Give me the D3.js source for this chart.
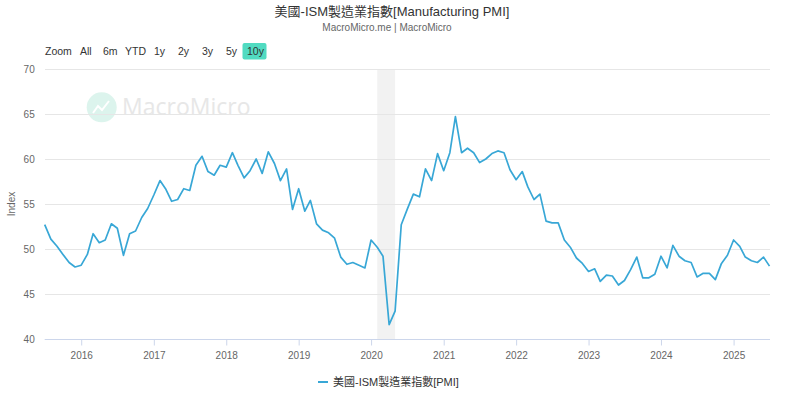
<!DOCTYPE html>
<html lang="zh-Hant">
<head>
<meta charset="UTF-8"/>
<title>美國-ISM製造業指數</title>
<script src="https://cdn.jsdelivr.net/npm/d3@7"></script>
<style>
    body { margin: 0; background: #fff; }
    svg { display: block; font-family: "Liberation Sans", "Noto Sans CJK TC", sans-serif; }
    .grid line { stroke: #e6e6e6; stroke-width: 1; shape-rendering: crispEdges; }
    .axis text { fill: #666; font-size: 10px; }
    .btn { fill: #333; font-size: 10.5px; }
</style>
</head>
<body>
<div id="chart"></div>
<script>
    // first month of the series, then one value per month
    var startMonth = "2015-07";
    var pmi = [
        52.7, 51.1, 50.3, 49.4, 48.5, 48.0,                               // 2015 Jul-Dec
        48.2, 49.4, 51.7, 50.7, 51.0, 52.8, 52.3, 49.3, 51.7, 52.0, 53.5, 54.5, // 2016
        56.0, 57.6, 56.7, 55.3, 55.5, 56.7, 56.5, 59.3, 60.3, 58.6, 58.2, 59.3, // 2017
        59.1, 60.7, 59.3, 57.9, 58.7, 60.0, 58.4, 60.8, 59.5, 57.6, 58.9, 54.4, // 2018
        56.7, 54.2, 55.4, 52.8, 52.1, 51.8, 51.2, 49.1, 48.3, 48.5, 48.2, 47.9, // 2019
        51.0, 50.2, 49.2, 41.6, 43.1, 52.7, 54.4, 56.1, 55.8, 58.9, 57.6, 60.6, // 2020
        58.7, 60.7, 64.7, 60.7, 61.2, 60.7, 59.6, 60.0, 60.6, 60.9, 60.7, 58.8, // 2021
        57.7, 58.6, 56.9, 55.5, 56.1, 53.1, 52.9, 52.9, 51.0, 50.2, 49.0, 48.4, // 2022
        47.5, 47.8, 46.4, 47.1, 47.0, 46.0, 46.5, 47.7, 49.1, 46.8, 46.8, 47.2, // 2023
        49.2, 47.9, 50.4, 49.2, 48.7, 48.5, 46.9, 47.3, 47.3, 46.6, 48.4, 49.3, // 2024
        51.0, 50.3, 49.1, 48.7, 48.5, 49.1, 48.1                          // 2025 Jan-Jul
    ];
    var recession = ["2020-02", "2020-05"];
    var yTicks = [40, 45, 50, 55, 60, 65, 70];
    var xTickYears = [2016, 2017, 2018, 2019, 2020, 2021, 2022, 2023, 2024, 2025];
    var zoomButtons = ["All", "6m", "YTD", "1y", "2y", "3y", "5y", "10y"];
    var activeButton = "10y";
    var seriesName = "美國-ISM製造業指數[PMI]";

    var W = 800, H = 394;
    var margin = {top: 69, right: 30, bottom: 55, left: 44.7};
    var lineColor = "#38a7d6";

    var parseMonth = d3.timeParse("%Y-%m");
    var start = parseMonth(startMonth);
    var data = pmi.map(function (v, i) {
        return {date: d3.timeMonth.offset(start, i), value: v};
    });

    var svg = d3.select("#chart").append("svg")
        .attr("width", W)
        .attr("height", H);

    var x = d3.scaleTime()
        .domain(d3.extent(data, function (d) { return d.date; }))
        .range([margin.left, W - margin.right - 0.5]);

    var y = d3.scaleLinear()
        .domain([40, 70])
        .range([H - margin.bottom, margin.top]);

    // title
    svg.append("text")
        .attr("x", 392).attr("y", 16)
        .attr("text-anchor", "middle")
        .style("font-size", "13px").style("fill", "#333")
        .text("美國-ISM製造業指數[Manufacturing PMI]");
    svg.append("text")
        .attr("x", 387).attr("y", 31)
        .attr("text-anchor", "middle")
        .style("font-size", "10px").style("fill", "#666")
        .text("MacroMicro.me | MacroMicro");

    // range selector
    var btnX = [80, 103, 125, 154, 178, 202, 226, 247];
    svg.append("text").attr("class", "btn")
        .attr("x", 45).attr("y", 55).text("Zoom");
    zoomButtons.forEach(function (b, i) {
        if (b === activeButton) {
            svg.append("rect")
                .attr("x", btnX[i] - 4.5).attr("y", 43)
                .attr("width", 24).attr("height", 16.5)
                .attr("rx", 2)
                .attr("fill", "#51dbc1");
        }
        svg.append("text").attr("class", "btn")
            .attr("x", btnX[i]).attr("y", 55)
            .text(b);
    });

    // watermark
    var wm = svg.append("g").attr("opacity", 0.85);
    wm.append("circle")
        .attr("cx", 101.7).attr("cy", 107.3).attr("r", 15)
        .attr("fill", "#d7f3ea");
    wm.append("polyline")
        .attr("points", "93,113 98,106 102,110 109,101")
        .attr("fill", "none").attr("stroke", "#fff").attr("stroke-width", 2);
    wm.append("text")
        .attr("x", 122).attr("y", 115)
        .style("font-size", "23px").style("fill", "#e3e3e3")
        .style("font-family", "'Open Sans', sans-serif")
        .text("MacroMicro");

    // recession band
    svg.append("rect")
        .attr("x", x(parseMonth(recession[0])))
        .attr("y", margin.top)
        .attr("width", x(parseMonth(recession[1])) - x(parseMonth(recession[0])))
        .attr("height", y(40) - margin.top)
        .attr("fill", "#f2f2f2");

    // grid lines
    svg.append("g").attr("class", "grid")
        .selectAll("line")
        .data(yTicks.filter(function (t) { return t > 40; }))
        .enter().append("line")
        .attr("x1", margin.left).attr("x2", W - margin.right)
        .attr("y1", function (d) { return Math.round(y(d)) + 0.5; })
        .attr("y2", function (d) { return Math.round(y(d)) + 0.5; });

    // y axis labels
    var yAxis = svg.append("g").attr("class", "axis")
        .attr("transform", "translate(" + (margin.left - 10) + ",0)")
        .call(d3.axisLeft(y).tickValues(yTicks).tickSize(0).tickPadding(0));
    yAxis.select(".domain").remove();

    svg.append("text")
        .attr("transform", "translate(15,204)rotate(-90)")
        .attr("text-anchor", "middle")
        .style("font-size", "10px").style("fill", "#666")
        .text("Index");

    // x axis
    var xAxis = svg.append("g").attr("class", "axis")
        .attr("transform", "translate(0," + (Math.round(y(40)) + 0.5) + ")")
        .call(d3.axisBottom(x)
            .tickValues(xTickYears.map(function (yr) { return new Date(yr, 0, 1); }))
            .tickFormat(d3.timeFormat("%Y"))
            .tickSize(6).tickSizeOuter(0).tickPadding(6));
    xAxis.select(".domain").attr("stroke", "#ccd6eb")
        .attr("d", "M" + margin.left + ",0H" + (W - margin.right));
    xAxis.selectAll(".tick line").attr("stroke", "#ccd6eb");

    // series
    var line = d3.line()
        .x(function (d) { return x(d.date); })
        .y(function (d) { return y(d.value); });

    svg.append("path")
        .datum(data)
        .attr("fill", "none")
        .attr("stroke", lineColor)
        .attr("stroke-width", 1.7)
        .attr("stroke-linejoin", "round")
        .attr("d", line);

    // legend
    var lg = svg.append("g").attr("transform", "translate(318,382)");
    lg.append("line")
        .attr("x1", 0).attr("x2", 10)
        .attr("stroke", lineColor).attr("stroke-width", 2);
    lg.append("text")
        .attr("x", 15).attr("dy", "0.35em")
        .style("font-size", "11px").style("fill", "#333")
        .text(seriesName);
</script>
</body>
</html>
